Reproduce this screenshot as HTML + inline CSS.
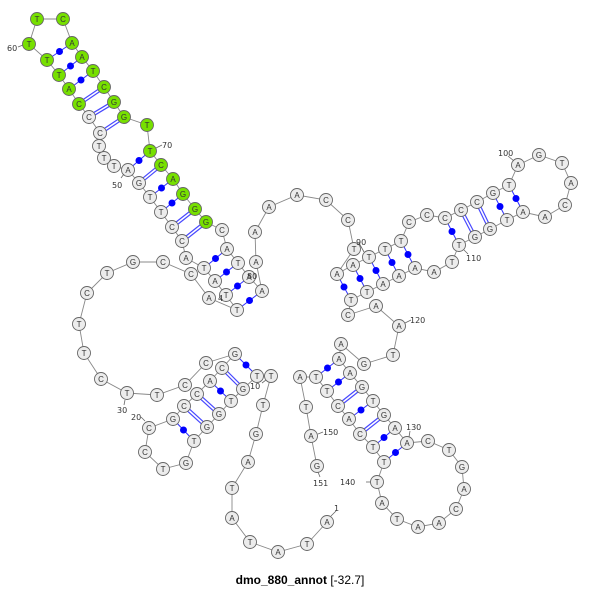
<!DOCTYPE html>
<html><head><meta charset="utf-8"><style>
html,body{margin:0;padding:0;background:#fff;width:600px;height:589px;overflow:hidden}
svg{display:block}
.n circle{fill:#ececec;stroke:#666;stroke-width:0.9}
.g circle{fill:#77e000}
.n text{font-family:"Liberation Sans",sans-serif;font-size:8px;fill:#333;text-anchor:middle}
.lb{font-family:"DejaVu Sans","Liberation Sans",sans-serif;font-size:8px;fill:#333}
</style></head><body>
<svg width="600" height="589" viewBox="0 0 600 589" xmlns="http://www.w3.org/2000/svg">
<polyline fill="none" stroke="#888" stroke-width="0.9" points="327,522 307,544 278,552 250,542 232,518 232,488 248,462 256,434 263,405 271,376 257,376 243,389 231,401 219,414 207,427 194,441 186,463 163,469 145,452 149,428 173,419 184,406 197,394 210,381 222,368 235,354 206,363 185,385 157,395 127,393 101,379 84,353 79,324 87,293 107,273 133,262 163,262 191,274 209,298 237,310 226,295 215,281 204,268 186,258 182,241 172,227 161,212 150,197 139,183 128,170 114,166 104,158 99,146 100,133 89,117 79,104 69,89 59,75 47,60 29,44 37,19 63,19 72,43 82,57 93,71 104,87 114,102 124,117 147,125 150,151 161,165 173,179 183,194 195,209 206,222 222,230 227,249 238,263 249,277 262,291 256,262 255,232 269,207 297,195 326,200 348,220 354,249 337,274 353,265 369,257 385,249 401,241 409,222 427,215 445,218 461,210 477,202 493,193 509,185 518,165 539,155 562,163 571,183 565,205 545,217 523,212 507,220 490,229 475,237 459,245 452,262 434,272 415,268 399,276 383,284 367,292 351,300 348,315 376,306 399,326 393,355 364,364 341,344 339,359 350,373 362,387 373,401 384,415 395,428 407,443 428,441 449,450 462,467 464,489 456,509 439,523 418,527 397,519 382,503 377,482 384,462 373,447 360,434 349,419 338,406 327,391 316,377 300,377 306,407 311,436 317,466"/>
<g stroke="#3030ff" stroke-width="1">
<line x1="47" y1="60" x2="72" y2="43"/><line x1="59" y1="75" x2="82" y2="57"/><line x1="69" y1="89" x2="93" y2="71"/><line x1="128" y1="170" x2="150" y2="151"/><line x1="150" y1="197" x2="173" y2="179"/><line x1="161" y1="212" x2="183" y2="194"/><line x1="204" y1="268" x2="227" y2="249"/><line x1="215" y1="281" x2="238" y2="263"/><line x1="226" y1="295" x2="249" y2="277"/><line x1="237" y1="310" x2="262" y2="291"/><line x1="235" y1="354" x2="257" y2="376"/><line x1="210" y1="381" x2="231" y2="401"/><line x1="173" y1="419" x2="194" y2="441"/><line x1="337" y1="274" x2="351" y2="300"/><line x1="353" y1="265" x2="367" y2="292"/><line x1="369" y1="257" x2="383" y2="284"/><line x1="385" y1="249" x2="399" y2="276"/><line x1="401" y1="241" x2="415" y2="268"/><line x1="445" y1="218" x2="459" y2="245"/><line x1="493" y1="193" x2="507" y2="220"/><line x1="509" y1="185" x2="523" y2="212"/><line x1="316" y1="377" x2="339" y2="359"/><line x1="327" y1="391" x2="350" y2="373"/><line x1="349" y1="419" x2="373" y2="401"/><line x1="373" y1="447" x2="395" y2="428"/><line x1="384" y1="462" x2="407" y2="443"/>
</g>
<g fill="#0000ff">
<circle cx="59.5" cy="51.5" r="3.5"/><circle cx="70.5" cy="66" r="3.5"/><circle cx="81" cy="80" r="3.5"/><circle cx="139" cy="160.5" r="3.5"/><circle cx="161.5" cy="188" r="3.5"/><circle cx="172" cy="203" r="3.5"/><circle cx="215.5" cy="258.5" r="3.5"/><circle cx="226.5" cy="272" r="3.5"/><circle cx="237.5" cy="286" r="3.5"/><circle cx="249.5" cy="300.5" r="3.5"/><circle cx="246" cy="365" r="3.5"/><circle cx="220.5" cy="391" r="3.5"/><circle cx="183.5" cy="430" r="3.5"/><circle cx="344" cy="287" r="3.5"/><circle cx="360" cy="278.5" r="3.5"/><circle cx="376" cy="270.5" r="3.5"/><circle cx="392" cy="262.5" r="3.5"/><circle cx="408" cy="254.5" r="3.5"/><circle cx="452" cy="231.5" r="3.5"/><circle cx="500" cy="206.5" r="3.5"/><circle cx="516" cy="198.5" r="3.5"/><circle cx="327.5" cy="368" r="3.5"/><circle cx="338.5" cy="382" r="3.5"/><circle cx="361" cy="410" r="3.5"/><circle cx="384" cy="437.5" r="3.5"/><circle cx="395.5" cy="452.5" r="3.5"/>
</g>
<g id="dbl">
<g stroke="#4848ff" stroke-width="4">
<line x1="79" y1="104" x2="104" y2="87"/><line x1="89" y1="117" x2="114" y2="102"/><line x1="100" y1="133" x2="124" y2="117"/><line x1="139" y1="183" x2="161" y2="165"/><line x1="172" y1="227" x2="195" y2="209"/><line x1="182" y1="241" x2="206" y2="222"/><line x1="222" y1="368" x2="243" y2="389"/><line x1="197" y1="394" x2="219" y2="414"/><line x1="184" y1="406" x2="207" y2="427"/><line x1="461" y1="210" x2="475" y2="237"/><line x1="477" y1="202" x2="490" y2="229"/><line x1="338" y1="406" x2="362" y2="387"/><line x1="360" y1="434" x2="384" y2="415"/>
</g>
<g stroke="#fff" stroke-width="1.6">
<line x1="79" y1="104" x2="104" y2="87"/><line x1="89" y1="117" x2="114" y2="102"/><line x1="100" y1="133" x2="124" y2="117"/><line x1="139" y1="183" x2="161" y2="165"/><line x1="172" y1="227" x2="195" y2="209"/><line x1="182" y1="241" x2="206" y2="222"/><line x1="222" y1="368" x2="243" y2="389"/><line x1="197" y1="394" x2="219" y2="414"/><line x1="184" y1="406" x2="207" y2="427"/><line x1="461" y1="210" x2="475" y2="237"/><line x1="477" y1="202" x2="490" y2="229"/><line x1="338" y1="406" x2="362" y2="387"/><line x1="360" y1="434" x2="384" y2="415"/>
</g>
</g>
<g class="n">
<g transform="translate(327,522)"><circle r="6.5"/><text y="3">A</text></g>
<g transform="translate(307,544)"><circle r="6.5"/><text y="3">T</text></g>
<g transform="translate(278,552)"><circle r="6.5"/><text y="3">A</text></g>
<g transform="translate(250,542)"><circle r="6.5"/><text y="3">T</text></g>
<g transform="translate(232,518)"><circle r="6.5"/><text y="3">A</text></g>
<g transform="translate(232,488)"><circle r="6.5"/><text y="3">T</text></g>
<g transform="translate(248,462)"><circle r="6.5"/><text y="3">A</text></g>
<g transform="translate(256,434)"><circle r="6.5"/><text y="3">G</text></g>
<g transform="translate(263,405)"><circle r="6.5"/><text y="3">T</text></g>
<g transform="translate(271,376)"><circle r="6.5"/><text y="3">T</text></g>
<g transform="translate(257,376)"><circle r="6.5"/><text y="3">T</text></g>
<g transform="translate(243,389)"><circle r="6.5"/><text y="3">G</text></g>
<g transform="translate(231,401)"><circle r="6.5"/><text y="3">T</text></g>
<g transform="translate(219,414)"><circle r="6.5"/><text y="3">G</text></g>
<g transform="translate(207,427)"><circle r="6.5"/><text y="3">G</text></g>
<g transform="translate(194,441)"><circle r="6.5"/><text y="3">T</text></g>
<g transform="translate(186,463)"><circle r="6.5"/><text y="3">G</text></g>
<g transform="translate(163,469)"><circle r="6.5"/><text y="3">T</text></g>
<g transform="translate(145,452)"><circle r="6.5"/><text y="3">C</text></g>
<g transform="translate(149,428)"><circle r="6.5"/><text y="3">C</text></g>
<g transform="translate(173,419)"><circle r="6.5"/><text y="3">G</text></g>
<g transform="translate(184,406)"><circle r="6.5"/><text y="3">C</text></g>
<g transform="translate(197,394)"><circle r="6.5"/><text y="3">C</text></g>
<g transform="translate(210,381)"><circle r="6.5"/><text y="3">A</text></g>
<g transform="translate(222,368)"><circle r="6.5"/><text y="3">C</text></g>
<g transform="translate(235,354)"><circle r="6.5"/><text y="3">G</text></g>
<g transform="translate(206,363)"><circle r="6.5"/><text y="3">C</text></g>
<g transform="translate(185,385)"><circle r="6.5"/><text y="3">C</text></g>
<g transform="translate(157,395)"><circle r="6.5"/><text y="3">T</text></g>
<g transform="translate(127,393)"><circle r="6.5"/><text y="3">T</text></g>
<g transform="translate(101,379)"><circle r="6.5"/><text y="3">C</text></g>
<g transform="translate(84,353)"><circle r="6.5"/><text y="3">T</text></g>
<g transform="translate(79,324)"><circle r="6.5"/><text y="3">T</text></g>
<g transform="translate(87,293)"><circle r="6.5"/><text y="3">C</text></g>
<g transform="translate(107,273)"><circle r="6.5"/><text y="3">T</text></g>
<g transform="translate(133,262)"><circle r="6.5"/><text y="3">G</text></g>
<g transform="translate(163,262)"><circle r="6.5"/><text y="3">C</text></g>
<g transform="translate(191,274)"><circle r="6.5"/><text y="3">C</text></g>
<g transform="translate(209,298)"><circle r="6.5"/><text y="3">A</text></g>
<g transform="translate(237,310)"><circle r="6.5"/><text y="3">T</text></g>
<g transform="translate(226,295)"><circle r="6.5"/><text y="3">T</text></g>
<g transform="translate(215,281)"><circle r="6.5"/><text y="3">A</text></g>
<g transform="translate(204,268)"><circle r="6.5"/><text y="3">T</text></g>
<g transform="translate(186,258)"><circle r="6.5"/><text y="3">A</text></g>
<g transform="translate(182,241)"><circle r="6.5"/><text y="3">C</text></g>
<g transform="translate(172,227)"><circle r="6.5"/><text y="3">C</text></g>
<g transform="translate(161,212)"><circle r="6.5"/><text y="3">T</text></g>
<g transform="translate(150,197)"><circle r="6.5"/><text y="3">T</text></g>
<g transform="translate(139,183)"><circle r="6.5"/><text y="3">G</text></g>
<g transform="translate(128,170)"><circle r="6.5"/><text y="3">A</text></g>
<g transform="translate(114,166)"><circle r="6.5"/><text y="3">T</text></g>
<g transform="translate(104,158)"><circle r="6.5"/><text y="3">T</text></g>
<g transform="translate(99,146)"><circle r="6.5"/><text y="3">T</text></g>
<g transform="translate(100,133)"><circle r="6.5"/><text y="3">C</text></g>
<g transform="translate(89,117)"><circle r="6.5"/><text y="3">C</text></g>
<g class="g" transform="translate(79,104)"><circle r="6.5"/><text y="3">C</text></g>
<g class="g" transform="translate(69,89)"><circle r="6.5"/><text y="3">A</text></g>
<g class="g" transform="translate(59,75)"><circle r="6.5"/><text y="3">T</text></g>
<g class="g" transform="translate(47,60)"><circle r="6.5"/><text y="3">T</text></g>
<g class="g" transform="translate(29,44)"><circle r="6.5"/><text y="3">T</text></g>
<g class="g" transform="translate(37,19)"><circle r="6.5"/><text y="3">T</text></g>
<g class="g" transform="translate(63,19)"><circle r="6.5"/><text y="3">C</text></g>
<g class="g" transform="translate(72,43)"><circle r="6.5"/><text y="3">A</text></g>
<g class="g" transform="translate(82,57)"><circle r="6.5"/><text y="3">A</text></g>
<g class="g" transform="translate(93,71)"><circle r="6.5"/><text y="3">T</text></g>
<g class="g" transform="translate(104,87)"><circle r="6.5"/><text y="3">C</text></g>
<g class="g" transform="translate(114,102)"><circle r="6.5"/><text y="3">G</text></g>
<g class="g" transform="translate(124,117)"><circle r="6.5"/><text y="3">G</text></g>
<g class="g" transform="translate(147,125)"><circle r="6.5"/><text y="3">T</text></g>
<g class="g" transform="translate(150,151)"><circle r="6.5"/><text y="3">T</text></g>
<g class="g" transform="translate(161,165)"><circle r="6.5"/><text y="3">C</text></g>
<g class="g" transform="translate(173,179)"><circle r="6.5"/><text y="3">A</text></g>
<g class="g" transform="translate(183,194)"><circle r="6.5"/><text y="3">G</text></g>
<g class="g" transform="translate(195,209)"><circle r="6.5"/><text y="3">G</text></g>
<g class="g" transform="translate(206,222)"><circle r="6.5"/><text y="3">G</text></g>
<g transform="translate(222,230)"><circle r="6.5"/><text y="3">C</text></g>
<g transform="translate(227,249)"><circle r="6.5"/><text y="3">A</text></g>
<g transform="translate(238,263)"><circle r="6.5"/><text y="3">T</text></g>
<g transform="translate(249,277)"><circle r="6.5"/><text y="3">A</text></g>
<g transform="translate(262,291)"><circle r="6.5"/><text y="3">A</text></g>
<g transform="translate(256,262)"><circle r="6.5"/><text y="3">A</text></g>
<g transform="translate(255,232)"><circle r="6.5"/><text y="3">A</text></g>
<g transform="translate(269,207)"><circle r="6.5"/><text y="3">A</text></g>
<g transform="translate(297,195)"><circle r="6.5"/><text y="3">A</text></g>
<g transform="translate(326,200)"><circle r="6.5"/><text y="3">C</text></g>
<g transform="translate(348,220)"><circle r="6.5"/><text y="3">C</text></g>
<g transform="translate(354,249)"><circle r="6.5"/><text y="3">T</text></g>
<g transform="translate(337,274)"><circle r="6.5"/><text y="3">A</text></g>
<g transform="translate(353,265)"><circle r="6.5"/><text y="3">A</text></g>
<g transform="translate(369,257)"><circle r="6.5"/><text y="3">T</text></g>
<g transform="translate(385,249)"><circle r="6.5"/><text y="3">T</text></g>
<g transform="translate(401,241)"><circle r="6.5"/><text y="3">T</text></g>
<g transform="translate(409,222)"><circle r="6.5"/><text y="3">C</text></g>
<g transform="translate(427,215)"><circle r="6.5"/><text y="3">C</text></g>
<g transform="translate(445,218)"><circle r="6.5"/><text y="3">C</text></g>
<g transform="translate(461,210)"><circle r="6.5"/><text y="3">C</text></g>
<g transform="translate(477,202)"><circle r="6.5"/><text y="3">C</text></g>
<g transform="translate(493,193)"><circle r="6.5"/><text y="3">G</text></g>
<g transform="translate(509,185)"><circle r="6.5"/><text y="3">T</text></g>
<g transform="translate(518,165)"><circle r="6.5"/><text y="3">A</text></g>
<g transform="translate(539,155)"><circle r="6.5"/><text y="3">G</text></g>
<g transform="translate(562,163)"><circle r="6.5"/><text y="3">T</text></g>
<g transform="translate(571,183)"><circle r="6.5"/><text y="3">A</text></g>
<g transform="translate(565,205)"><circle r="6.5"/><text y="3">C</text></g>
<g transform="translate(545,217)"><circle r="6.5"/><text y="3">A</text></g>
<g transform="translate(523,212)"><circle r="6.5"/><text y="3">A</text></g>
<g transform="translate(507,220)"><circle r="6.5"/><text y="3">T</text></g>
<g transform="translate(490,229)"><circle r="6.5"/><text y="3">G</text></g>
<g transform="translate(475,237)"><circle r="6.5"/><text y="3">G</text></g>
<g transform="translate(459,245)"><circle r="6.5"/><text y="3">T</text></g>
<g transform="translate(452,262)"><circle r="6.5"/><text y="3">T</text></g>
<g transform="translate(434,272)"><circle r="6.5"/><text y="3">A</text></g>
<g transform="translate(415,268)"><circle r="6.5"/><text y="3">A</text></g>
<g transform="translate(399,276)"><circle r="6.5"/><text y="3">A</text></g>
<g transform="translate(383,284)"><circle r="6.5"/><text y="3">A</text></g>
<g transform="translate(367,292)"><circle r="6.5"/><text y="3">T</text></g>
<g transform="translate(351,300)"><circle r="6.5"/><text y="3">T</text></g>
<g transform="translate(348,315)"><circle r="6.5"/><text y="3">C</text></g>
<g transform="translate(376,306)"><circle r="6.5"/><text y="3">A</text></g>
<g transform="translate(399,326)"><circle r="6.5"/><text y="3">A</text></g>
<g transform="translate(393,355)"><circle r="6.5"/><text y="3">T</text></g>
<g transform="translate(364,364)"><circle r="6.5"/><text y="3">G</text></g>
<g transform="translate(341,344)"><circle r="6.5"/><text y="3">A</text></g>
<g transform="translate(339,359)"><circle r="6.5"/><text y="3">A</text></g>
<g transform="translate(350,373)"><circle r="6.5"/><text y="3">A</text></g>
<g transform="translate(362,387)"><circle r="6.5"/><text y="3">G</text></g>
<g transform="translate(373,401)"><circle r="6.5"/><text y="3">T</text></g>
<g transform="translate(384,415)"><circle r="6.5"/><text y="3">G</text></g>
<g transform="translate(395,428)"><circle r="6.5"/><text y="3">A</text></g>
<g transform="translate(407,443)"><circle r="6.5"/><text y="3">A</text></g>
<g transform="translate(428,441)"><circle r="6.5"/><text y="3">C</text></g>
<g transform="translate(449,450)"><circle r="6.5"/><text y="3">T</text></g>
<g transform="translate(462,467)"><circle r="6.5"/><text y="3">G</text></g>
<g transform="translate(464,489)"><circle r="6.5"/><text y="3">A</text></g>
<g transform="translate(456,509)"><circle r="6.5"/><text y="3">C</text></g>
<g transform="translate(439,523)"><circle r="6.5"/><text y="3">A</text></g>
<g transform="translate(418,527)"><circle r="6.5"/><text y="3">A</text></g>
<g transform="translate(397,519)"><circle r="6.5"/><text y="3">T</text></g>
<g transform="translate(382,503)"><circle r="6.5"/><text y="3">A</text></g>
<g transform="translate(377,482)"><circle r="6.5"/><text y="3">T</text></g>
<g transform="translate(384,462)"><circle r="6.5"/><text y="3">T</text></g>
<g transform="translate(373,447)"><circle r="6.5"/><text y="3">T</text></g>
<g transform="translate(360,434)"><circle r="6.5"/><text y="3">C</text></g>
<g transform="translate(349,419)"><circle r="6.5"/><text y="3">A</text></g>
<g transform="translate(338,406)"><circle r="6.5"/><text y="3">C</text></g>
<g transform="translate(327,391)"><circle r="6.5"/><text y="3">T</text></g>
<g transform="translate(316,377)"><circle r="6.5"/><text y="3">T</text></g>
<g transform="translate(300,377)"><circle r="6.5"/><text y="3">A</text></g>
<g transform="translate(306,407)"><circle r="6.5"/><text y="3">T</text></g>
<g transform="translate(311,436)"><circle r="6.5"/><text y="3">A</text></g>
<g transform="translate(317,466)"><circle r="6.5"/><text y="3">G</text></g>
</g>
<g stroke="#666" stroke-width="0.8">
<line x1="18" y1="47" x2="23" y2="45"/><line x1="156" y1="148" x2="162" y2="145"/><line x1="121" y1="178" x2="124" y2="174"/><line x1="359" y1="243" x2="364" y2="252"/><line x1="508" y1="156" x2="514" y2="161"/><line x1="464" y1="250" x2="468" y2="254"/><line x1="405" y1="323" x2="411" y2="320"/><line x1="409" y1="437" x2="410" y2="431"/><line x1="366" y1="482" x2="371" y2="482"/><line x1="318" y1="434" x2="323" y2="432"/><line x1="318" y1="472" x2="320" y2="477"/><line x1="331" y1="516" x2="336" y2="511"/><line x1="262" y1="383" x2="266" y2="380"/><line x1="141" y1="417" x2="145" y2="421"/><line x1="125" y1="400" x2="124" y2="405"/>
</g>
<g class="lb">
<text x="7" y="51">60</text><text x="162" y="148">70</text><text x="112" y="188">50</text><text x="247" y="279">80</text><text x="356" y="245">90</text><text x="498" y="156">100</text><text x="466" y="261">110</text><text x="410" y="323">120</text><text x="406" y="430">130</text><text x="340" y="485">140</text><text x="323" y="435">150</text><text x="313" y="486">151</text><text x="334" y="511">1</text><text x="250" y="389">10</text><text x="131" y="420">20</text><text x="117" y="413">30</text><text x="218" y="301">4</text>
</g>
<text x="300" y="584" text-anchor="middle" font-family="Liberation Sans,sans-serif" font-size="12" fill="#000"><tspan font-weight="bold">dmo_880_annot</tspan> [-32.7]</text>
</svg>
</body></html>
